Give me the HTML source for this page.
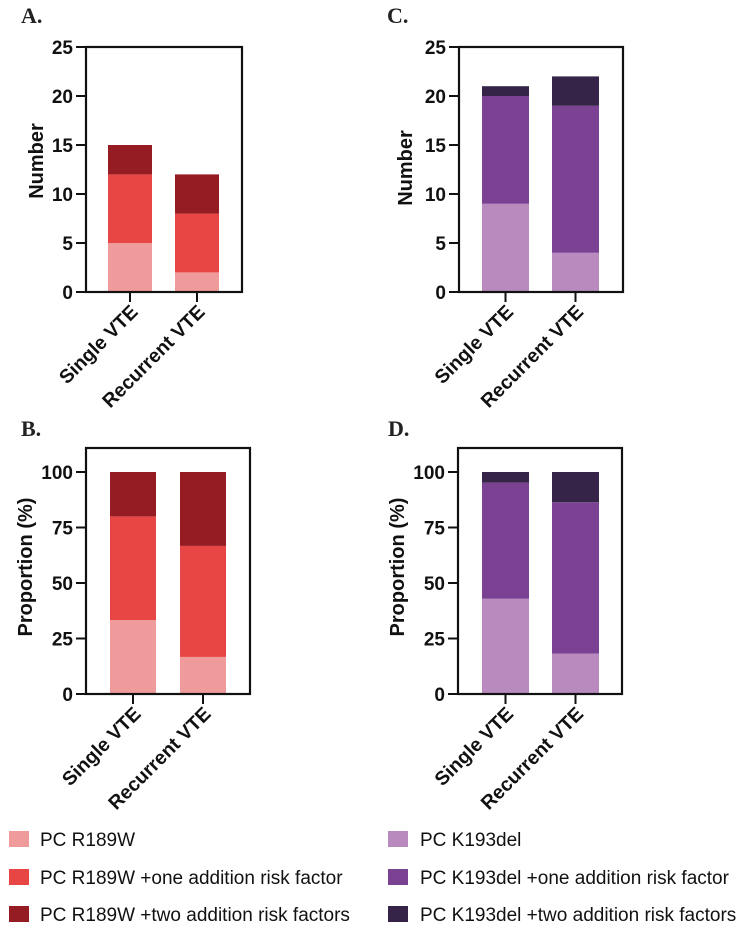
<!DOCTYPE html>
<html><head><meta charset="utf-8"><style>
body{margin:0;background:#fff;}
svg{display:block;font-family:"Liberation Sans",Arial,sans-serif;}
</style></head><body>
<svg id="fig" width="744" height="930" viewBox="0 0 744 930"></svg>
<script>
const categories = ["Single VTE", "Recurrent VTE"];
const aBase = [5, 2];
const aOne = [7, 6];
const aTwo = [3, 4];
const bBase = [33.3, 16.7];
const bOne = [46.7, 50];
const bTwo = [20, 33.3];
const cBase = [9, 4];
const cOne = [11, 15];
const cTwo = [1, 3];
const dBase = [42.9, 18.2];
const dOne = [52.3, 68.2];
const dTwo = [4.8, 13.6];
const countTicks = [0, 5, 10, 15, 20, 25];
const propTicks = [0, 25, 50, 75, 100];
const redLegend = ["PC R189W", "PC R189W +one addition risk factor", "PC R189W +two addition risk factors"];
const purpleLegend = ["PC K193del", "PC K193del +one addition risk factor", "PC K193del +two addition risk factors"];

const NS = "http://www.w3.org/2000/svg";
const svg = document.getElementById("fig");
function mk(tag, attrs, parent, text){
  const e = document.createElementNS(NS, tag);
  for (const k in attrs) e.setAttribute(k, attrs[k]);
  if (text !== undefined) e.textContent = text;
  (parent || svg).appendChild(e);
  return e;
}
const reds = ["#f09b9b", "#e84545", "#951c22"];
const purples = ["#b98abd", "#7b4294", "#352448"];

function panel(cfg){
  const g = mk("g", {});
  
  
  const y = v => cfg.y0 + (cfg.y1 - cfg.y0) * (v - cfg.vmin) / (cfg.vmax - cfg.vmin);
  const lab = mk("text", {x: cfg.lx, y: cfg.ly, "font-family": "Liberation Serif, serif", "font-weight": "bold", "font-size": 22, fill: "#222"}, g, cfg.letter);
  
  
  const series = [cfg.s0, cfg.s1, cfg.s2];
  categories.forEach((c, i) => {
    let acc = 0;
    series.forEach((s, k) => {
      const top = y(acc + s[i]), bot = y(acc);
      const r = mk("rect", {x: cfg.barX[i], y: top, width: cfg.barW, height: bot - top, fill: cfg.colors[k]}, g);
      
      
      acc += s[i];
    });
  });
  const fr = mk("rect", {x: cfg.left, y: cfg.top, width: cfg.right - cfg.left, height: cfg.y0 - cfg.top, fill: "none", stroke: "#111", "stroke-width": 2.2}, g);
  
  
  cfg.ticks.forEach(t => {
    const ty = y(t);
    mk("line", {x1: cfg.left - 10, x2: cfg.left, y1: ty, y2: ty, stroke: "#111", "stroke-width": 2}, g);
    const tl = mk("text", {x: cfg.left - 13, y: ty + 7, "text-anchor": "end", "font-weight": "bold", "font-size": 19, fill: "#111"}, g, t);
    
    
  });
  categories.forEach((c, i) => {
    const tx = cfg.barX[i] + cfg.barW / 2;
    mk("line", {x1: tx, x2: tx, y1: cfg.y0, y2: cfg.y0 + 10, stroke: "#111", "stroke-width": 2}, g);
    const xl = mk("text", {x: tx + 9, y: cfg.y0 + 21, "text-anchor": "end", "font-weight": "bold", "font-size": 19.5, fill: "#111", transform: `rotate(-45 ${tx + 9} ${cfg.y0 + 21})`}, g, c);
    
    
  });
  const yt = mk("text", {x: cfg.tx, y: cfg.ty, "text-anchor": "middle", "font-weight": "bold", "font-size": 20, fill: "#111", transform: `rotate(-90 ${cfg.tx} ${cfg.ty})`}, g, cfg.title);
  
  
}

panel({name: "panel-a", letter: "A.", lx: 21, ly: 23, left: 86, right: 242, top: 47, y0: 292, y1: 47, vmin: 0, vmax: 25, ticks: countTicks, s0: aBase, s1: aOne, s2: aTwo, colors: reds, barX: [108, 175], barW: 44, title: "Number", tx: 43, ty: 161});
panel({name: "panel-b", letter: "B.", lx: 21, ly: 436, left: 86, right: 250, top: 448, y0: 694, y1: 472, vmin: 0, vmax: 100, ticks: propTicks, s0: bBase, s1: bOne, s2: bTwo, colors: reds, barX: [110, 180], barW: 46, title: "Proportion (%)", tx: 32, ty: 567});
panel({name: "panel-c", letter: "C.", lx: 387, ly: 23, left: 459, right: 623, top: 47, y0: 292, y1: 47, vmin: 0, vmax: 25, ticks: countTicks, s0: cBase, s1: cOne, s2: cTwo, colors: purples, barX: [482, 552], barW: 47, title: "Number", tx: 412, ty: 168});
panel({name: "panel-d", letter: "D.", lx: 388, ly: 436, left: 458, right: 622, top: 448, y0: 694, y1: 472, vmin: 0, vmax: 100, ticks: propTicks, s0: dBase, s1: dOne, s2: dTwo, colors: purples, barX: [482, 552], barW: 47, title: "Proportion (%)", tx: 404, ty: 567});

function legend(items, colors, sx, txx, name){
  const g = mk("g", {});
  
  
  const rows = [839, 877, 914];
  items.forEach((t, i) => {
    const r = mk("rect", {x: sx, y: rows[i] - 8, width: 20, height: 16, fill: colors[i]}, g);
    
    
    const tx = mk("text", {x: txx, y: rows[i] + 7, "font-size": 19, fill: "#111"}, g, t);
    
    
  });
}
legend(redLegend, reds, 9, 40, "legend-r189w");
legend(purpleLegend, purples, 388, 420, "legend-k193del");
</script>
</body></html>
